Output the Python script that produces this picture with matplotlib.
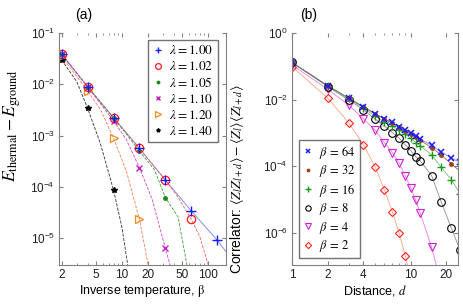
import matplotlib
matplotlib.use("Agg")
import matplotlib.pyplot as plt
from matplotlib.ticker import FixedLocator, NullFormatter, LogLocator

plt.rcParams['font.family'] = ['Liberation Sans', 'DejaVu Sans']
plt.rcParams['mathtext.fontset'] = 'stix'

# ---- panel (a): thermal energy vs inverse temperature ----
beta = [2, 4, 8, 16, 32, 64, 128]
lambdas = ['1.00', '1.02', '1.05', '1.10', '1.20', '1.40']
e_100 = [0.0385, 8.98e-3, 2.23e-3, 5.65e-4, 1.36e-4, 3.43e-5, 9.2e-6]
e_102 = [0.0385, 8.98e-3, 2.23e-3, 5.65e-4, 1.36e-4, 2.35e-5]
e_105 = [0.0385, 8.98e-3, 2.23e-3, 5.0e-4, 6.17e-5]
e_110 = [0.0385, 8.9e-3, 1.95e-3, 2.37e-4, 6.35e-6]
e_120 = [0.035, 7.4e-3, 8.9e-4, 2.35e-5]
e_140 = [0.0298, 3.4e-3, 8.7e-5]

# dashed fit curves
fit_b_100 = [2, 4, 8, 16, 32, 64, 128, 162]
fit_e_100 = [0.0385, 8.98e-3, 2.23e-3, 5.65e-4, 1.36e-4, 3.43e-5, 9.2e-6, 5.5e-6]
fit_b_102 = [2, 4, 8, 16, 32, 45, 64, 80, 101]
fit_e_102 = [0.0385, 8.98e-3, 2.23e-3, 5.65e-4, 1.36e-4, 6.3e-5, 2.35e-5, 1.1e-5, 3e-6]
fit_b_105 = [2, 4, 8, 16, 24, 32, 45, 57]
fit_e_105 = [0.0385, 8.98e-3, 2.23e-3, 5.0e-4, 2.15e-4, 6.17e-5, 2.6e-5, 3e-6]
fit_b_110 = [2, 4, 8, 11.3, 16, 22.6, 32, 36.4]
fit_e_110 = [0.0385, 8.9e-3, 1.95e-3, 8.3e-4, 2.37e-4, 5.6e-5, 6.35e-6, 3e-6]
fit_b_120 = [2, 4, 5.66, 8, 11.3, 16, 20.2]
fit_e_120 = [0.035, 7.4e-3, 3.2e-3, 8.9e-4, 2.0e-4, 2.35e-5, 3e-6]
fit_b_140 = [2, 3, 4, 5.6, 8, 10, 11.7]
fit_e_140 = [0.0298, 0.0112, 3.4e-3, 7.2e-4, 8.7e-5, 1.66e-5, 3e-6]

# ---- panel (b): correlator vs distance ----
dist = [1, 2, 3, 4, 5, 6, 7, 8, 9, 10, 11, 12, 15, 18, 22, 26]
betas_b = ['64', '32', '16', '8', '4', '2']
c_64 = [0.13, 0.026, 0.011, 6.1e-3, 3.8e-3, 2.65e-3, 2.05e-3, 1.52e-3, 1.2e-3,
        9.9e-4, 7.8e-4, 6.6e-4, 4.2e-4, 2.7e-4, 1.75e-4, 1.3e-4]
c_32 = [0.13, 0.026, 0.011, 6.0e-3, 3.7e-3, 2.6e-3, 1.95e-3, 1.45e-3, 1.13e-3,
        9.2e-4, 7.3e-4, 6.0e-4, 3.6e-4, 2.2e-4, 1.17e-4, 7e-5]
c_16 = [0.13, 0.0255, 0.0108, 5.5e-3, 3.2e-3, 2.17e-3, 1.6e-3, 1.22e-3, 9.1e-4,
        6.9e-4, 5.1e-4, 4.05e-4, 2.2e-4, 9.3e-5, 3.9e-5, 1.5e-5]
c_8 = [0.13, 0.0245, 9.8e-3, 4.9e-3, 2.6e-3, 1.6e-3, 1.02e-3, 6.9e-4, 4.35e-4,
       2.93e-4, 1.94e-4, 1.47e-4, 5.2e-5, 8.6e-6, 1.37e-6, 3e-7]
c_4 = [0.11, 0.0204, 6.9e-3, 2.6e-3, 1.22e-3, 5.1e-4, 2.56e-4, 1.23e-4, 5.1e-5,
       2.25e-5, 9.6e-6, 4.0e-6, 3.6e-7, 3e-8]
c_2 = [0.098, 0.011, 2.03e-3, 4.35e-4, 9.7e-5, 1.94e-5, 4.3e-6, 9.6e-7, 2.0e-7, 4e-8]

fig = plt.figure(figsize=(4.63, 3.08), dpi=100)
ax1 = fig.add_axes([59/463, 43/308, 167/463, 232/308])
ax2 = fig.add_axes([292/463, 43/308, 166/463, 232/308])

# panel (a) curves
ax1.plot(fit_b_100, fit_e_100, '-', color='#6f7fff', lw=0.6)
ax1.plot(fit_b_102, fit_e_102, '--', color='#ff5a5a', lw=0.6)
ax1.plot(fit_b_105, fit_e_105, '--', color='#3aa03a', lw=0.6)
ax1.plot(fit_b_110, fit_e_110, '--', color='#d040d0', lw=0.6)
ax1.plot(fit_b_120, fit_e_120, '--', color='#f08050', lw=0.6)
ax1.plot(fit_b_140, fit_e_140, '--', color='#303030', lw=0.6)

ax1.plot(beta[:len(e_140)], e_140, '*', color='k', ms=4, ls='none',
         label=r'$\lambda = 1.40$')
ax1.plot(beta[:len(e_120)], e_120, '>', color='#ee8a1e', mfc='none', ms=5.5,
         mew=0.9, ls='none', label=r'$\lambda = 1.20$')
ax1.plot(beta[:len(e_110)], e_110, 'x', color='#c020c0', ms=4.5, mew=1.0,
         ls='none', label=r'$\lambda = 1.10$')
ax1.plot(beta[:len(e_105)], e_105, '.', color='#1a8a1a', ms=5,
         ls='none', label=r'$\lambda = 1.05$')
ax1.plot(beta[:len(e_102)], e_102, 'o', color='#ff1a1a', mfc='none', ms=6,
         mew=0.9, ls='none', label=r'$\lambda = 1.02$')
ax1.plot(beta[:len(e_100)], e_100, '+', color='#1a1aff', ms=6.5, mew=1.0,
         ls='none', label=r'$\lambda = 1.00$')

ax1.set_xscale('log')
ax1.set_yscale('log')
ax1.set_xlim(1.86, 162)
ax1.set_ylim(10**-5.52, 1e-1)
ax1.xaxis.set_major_locator(FixedLocator([2, 5, 10, 20, 50, 100]))
ax1.set_xticklabels(['2', '5', '10', '20', '50', '100'])
ax1.xaxis.set_minor_locator(LogLocator(base=10, subs=range(2, 10)))
ax1.xaxis.set_minor_formatter(NullFormatter())
ax1.yaxis.set_major_locator(FixedLocator([1e-5, 1e-4, 1e-3, 1e-2, 1e-1]))
ax1.yaxis.set_minor_locator(FixedLocator([]))

h, l = ax1.get_legend_handles_labels()
ax1.legend(h[::-1], l[::-1], loc='upper right', bbox_to_anchor=(0.965, 0.98),
           fontsize=9.5, frameon=True, fancybox=False, edgecolor='#505050',
           handlelength=0.8, handletextpad=0.5, borderpad=0.3,
           labelspacing=0.22, borderaxespad=0.2, markerscale=0.7)
ax1.set_xlabel(r'Inverse temperature, $\mathrm{\beta}$', fontsize=9, labelpad=1)
ax1.set_ylabel(r'$E_{\mathrm{thermal}} - E_{\mathrm{ground}}$', fontsize=12.5)
ax1.yaxis.set_label_coords(-0.215, 0.6)
ax1.text(0.15, 1.078, '(a)', transform=ax1.transAxes, ha='center',
         va='center', fontsize=10)

# panel (b)
line_cols = ['#5a6cff', '#8a3a1a', '#50b050', '#707070', '#e060e0', '#f09060']
mk = [dict(marker='x', color='#1a1aff', ms=4.5, mew=1.1),
      dict(marker='.', color='#a0401a', ms=5),
      dict(marker='+', color='#1a9a1a', ms=6, mew=1.0),
      dict(marker='o', color='k', mfc='none', ms=5.5, mew=0.8),
      dict(marker='v', color='#d020d0', mfc='none', ms=6, mew=0.8),
      dict(marker='D', color='#ff2020', mfc='none', ms=4.5, mew=0.8)]
series_b = [c_64, c_32, c_16, c_8, c_4, c_2]
for vals, lc, m, b in zip(series_b, line_cols, mk, betas_b):
    ax2.plot(dist[:len(vals)], vals, '-', color=lc, lw=0.6, alpha=0.8)
for vals, m, b in list(zip(series_b, mk, betas_b))[::-1]:
    ax2.plot(dist[:len(vals)], vals, ls='none', label=r'$\beta\,=\,%s$' % b, **m)

ax2.set_xscale('log')
ax2.set_yscale('log')
ax2.set_xlim(1, 25)
ax2.set_ylim(10**-6.97, 1)
ax2.xaxis.set_major_locator(FixedLocator([1, 2, 4, 10, 20]))
ax2.set_xticklabels(['1', '2', '4', '10', '20'])
ax2.xaxis.set_minor_locator(LogLocator(base=10, subs=range(2, 10)))
ax2.xaxis.set_minor_formatter(NullFormatter())
ax2.yaxis.set_major_locator(FixedLocator([1e-6, 1e-4, 1e-2, 1]))
ax2.yaxis.set_minor_locator(FixedLocator([]))

h, l = ax2.get_legend_handles_labels()
ax2.legend(h[::-1], l[::-1], loc='lower left', bbox_to_anchor=(0.03, 0.02),
           fontsize=9, frameon=True, fancybox=False, edgecolor='#505050',
           handlelength=0.8, handletextpad=0.5, borderpad=0.3,
           labelspacing=0.2, borderaxespad=0.2, markerscale=0.7)
ax2.set_xlabel(r'Distance, $d$', fontsize=9, labelpad=1)
ax2.set_ylabel(r'Correlator: $\langle Z_l Z_{l+d}\rangle - \langle Z_l\rangle\langle Z_{l+d}\rangle$',
               fontsize=10)
ax2.yaxis.set_label_coords(-0.28, 0.37)
ax2.text(0.1, 1.078, '(b)', transform=ax2.transAxes, ha='center',
         va='center', fontsize=10)

for ax in (ax1, ax2):
    for s in ('left', 'bottom', 'right'):
        ax.spines[s].set_color('#808080')
        ax.spines[s].set_linewidth(0.8)
    ax.spines['top'].set_visible(False)
    ax.tick_params(which='both', direction='in', top=True, right=True,
                   color='#808080', labelsize=8.5, labelcolor='#202020', pad=3)
    ax.tick_params(which='major', length=3)
    ax.tick_params(which='minor', length=1.5)

fig.savefig('out.png', dpi=100)
